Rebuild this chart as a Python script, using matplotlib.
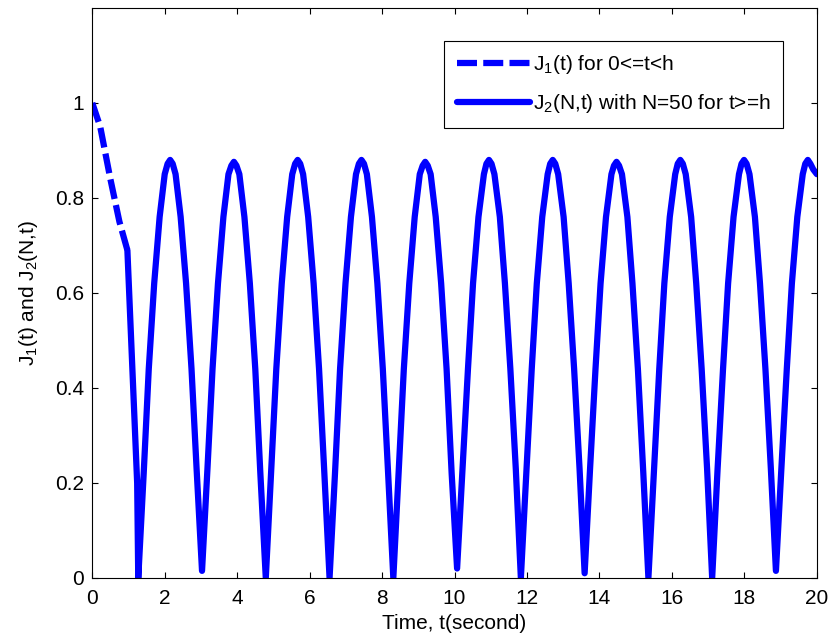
import matplotlib
matplotlib.use('Agg')
import matplotlib.pyplot as plt

plt.rcParams['font.family'] = ['Liberation Sans', 'DejaVu Sans']
plt.rcParams['mathtext.default'] = 'regular'

# J1(t) for 0 <= t < h  (dashed)
t1 = [0.0, 0.22, 0.50, 0.75, 0.97]
j1 = [1.0, 0.95, 0.84, 0.75, 0.69]

# J2(N,t), N=50, for t >= h  (solid)
t2 = [0.97, 1.13, 1.24,
      1.27, 1.42, 1.56, 1.71, 1.86, 2.00, 2.08, 2.15, 2.22, 2.30, 2.44, 2.59, 2.74, 2.88,
      3.03, 3.18, 3.32, 3.47, 3.62, 3.76, 3.84, 3.91, 3.98, 4.06, 4.20, 4.35, 4.50, 4.64,
      4.79, 4.94, 5.08, 5.23, 5.38, 5.52, 5.60, 5.67, 5.74, 5.82, 5.96, 6.11, 6.26, 6.40,
      6.55, 6.70, 6.84, 6.99, 7.14, 7.28, 7.36, 7.43, 7.50, 7.58, 7.72, 7.87, 8.02, 8.16,
      8.31, 8.46, 8.60, 8.75, 8.90, 9.04, 9.12, 9.19, 9.26, 9.34, 9.48, 9.63, 9.78, 9.92,
      10.07, 10.22, 10.37, 10.51, 10.66, 10.81, 10.88, 10.95, 11.02, 11.10, 11.25, 11.39, 11.54, 11.69,
      11.83, 11.98, 12.13, 12.27, 12.42, 12.57, 12.64, 12.71, 12.78, 12.86, 13.01, 13.15, 13.30, 13.45,
      13.59, 13.74, 13.89, 14.03, 14.18, 14.33, 14.40, 14.47, 14.54, 14.62, 14.77, 14.91, 15.06, 15.21,
      15.35, 15.50, 15.65, 15.79, 15.94, 16.09, 16.16, 16.23, 16.30, 16.38, 16.53, 16.67, 16.82, 16.97,
      17.11, 17.26, 17.41, 17.55, 17.70, 17.85, 17.92, 17.99, 18.06, 18.14, 18.29, 18.43, 18.58, 18.73,
      18.87, 19.02, 19.17, 19.31, 19.46, 19.61, 19.68, 19.75, 19.82, 19.90, 20.0]
j2 = [0.69, 0.40, 0.20,
      0.00, 0.22, 0.44, 0.62, 0.76, 0.85, 0.872, 0.88, 0.872, 0.85, 0.76, 0.62, 0.44, 0.23,
      0.015, 0.23, 0.44, 0.62, 0.76, 0.85, 0.868, 0.876, 0.868, 0.85, 0.76, 0.62, 0.44, 0.22,
      0.00, 0.23, 0.44, 0.62, 0.76, 0.85, 0.872, 0.88, 0.872, 0.85, 0.76, 0.62, 0.44, 0.23,
      0.00, 0.22, 0.44, 0.62, 0.76, 0.85, 0.872, 0.88, 0.872, 0.85, 0.76, 0.62, 0.44, 0.23,
      0.00, 0.23, 0.44, 0.62, 0.76, 0.85, 0.868, 0.876, 0.868, 0.85, 0.76, 0.62, 0.44, 0.22,
      0.02, 0.23, 0.44, 0.62, 0.76, 0.85, 0.872, 0.88, 0.872, 0.85, 0.76, 0.62, 0.44, 0.23,
      0.00, 0.22, 0.44, 0.62, 0.76, 0.85, 0.872, 0.88, 0.872, 0.85, 0.76, 0.62, 0.44, 0.23,
      0.01, 0.23, 0.44, 0.62, 0.76, 0.85, 0.868, 0.876, 0.868, 0.85, 0.76, 0.62, 0.44, 0.22,
      0.00, 0.22, 0.44, 0.62, 0.76, 0.85, 0.872, 0.88, 0.872, 0.85, 0.76, 0.62, 0.44, 0.23,
      0.00, 0.23, 0.44, 0.62, 0.76, 0.85, 0.872, 0.88, 0.872, 0.85, 0.76, 0.62, 0.44, 0.23,
      0.015, 0.23, 0.44, 0.62, 0.76, 0.85, 0.872, 0.88, 0.872, 0.86, 0.85]

xticks = [0, 2, 4, 6, 8, 10, 12, 14, 16, 18, 20]
yticks = [0, 0.2, 0.4, 0.6, 0.8, 1]

fs = 15
fig = plt.figure(figsize=(8.31, 6.42), dpi=100)
ax = fig.add_axes([0.111, 0.0997, 0.872, 0.888])

blue = '#0000ff'
ax.plot(t1, j1, color=blue, lw=4.5, dashes=(3.2, 1.0), solid_capstyle='butt',
        label='J$_1$(t) for 0<=t<h')
ax.plot(t2, j2, color=blue, lw=4.5, solid_joinstyle='round', solid_capstyle='round',
        label='J$_2$(N,t) with N=50 for t>=h')

ax.set_xlim(0, 20)
ax.set_ylim(0, 1.2)
ax.set_xticks(xticks)
ax.set_xticklabels([str(v) for v in xticks])
ax.set_yticks(yticks)
ax.set_yticklabels(['0', '0.2', '0.4', '0.6', '0.8', '1'])
ax.tick_params(direction='in', length=4, width=0.8, top=True, right=True, labelsize=fs)
ax.tick_params(axis='x', pad=8)
ax.tick_params(axis='y', pad=6)
for s in ax.spines.values():
    s.set_linewidth(0.8)

ax.set_xlabel('Time, t(second)', fontsize=fs, labelpad=4)
ax.set_ylabel('J$_1$(t) and J$_2$(N,t)', fontsize=fs, labelpad=11)

leg = ax.legend(loc='upper right', bbox_to_anchor=(0.953, 0.942), fontsize=fs,
                handlelength=3.5, handletextpad=0.15, borderpad=0.6, labelspacing=0.75,
                fancybox=False, framealpha=1, borderaxespad=0)
leg.get_frame().set_edgecolor('black')
leg.get_frame().set_linewidth(0.8)

fig.savefig('out.png', dpi=100, facecolor='white')
